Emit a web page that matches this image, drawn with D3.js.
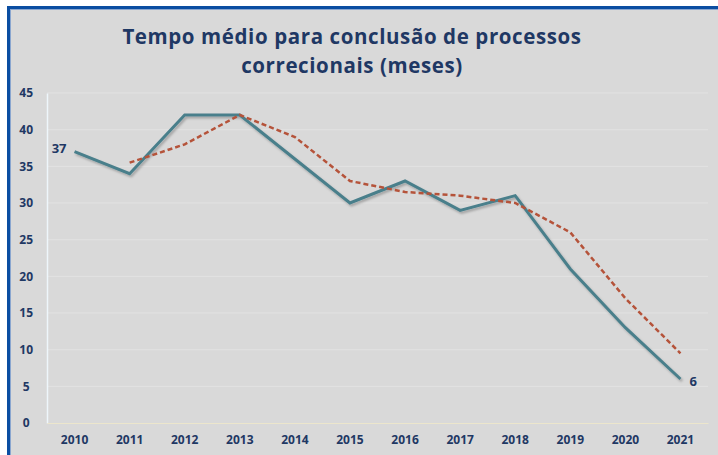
<!DOCTYPE html>
<html>
<head>
<meta charset="utf-8">
<script src="https://cdn.jsdelivr.net/npm/d3@7"></script>
<style>
  body { margin: 0; background: #fff; }
  svg { display: block; }
</style>
</head>
<body>
<div id="chart"></div>
<script>
const years = ['2010', '2011', '2012', '2013', '2014', '2015', '2016', '2017', '2018', '2019', '2020', '2021'];
const tempo = [37, 34, 42, 42, 36, 30, 33, 29, 31, 21, 13, 6];
// moving average trend (2 periods), first year has no value
const trend = [null, 35.5, 38, 42, 39, 33, 31.5, 31, 30, 26, 17, 9.5];
const yTicks = [0, 5, 10, 15, 20, 25, 30, 35, 40, 45];

const W = 718, H = 455;
const margin = { top: 93, right: 10, bottom: 32, left: 47 };
const width = W - margin.left - margin.right;
const height = H - margin.top - margin.bottom;

const svg = d3.select('#chart')
  .append('svg')
  .attr('width', W)
  .attr('height', H);

// frame
svg.append('rect')
  .attr('x', 7).attr('y', 6)
  .attr('width', W - 7).attr('height', H - 6)
  .attr('fill', '#d9d9d9');
svg.append('rect').attr('x', 7).attr('y', 6).attr('width', W - 7).attr('height', 3).attr('fill', '#0b4ea2');
svg.append('rect').attr('x', 7).attr('y', 6).attr('width', 3).attr('height', H - 6).attr('fill', '#0b4ea2');
svg.append('rect').attr('x', 10).attr('y', 9).attr('width', W - 10).attr('height', 1).attr('fill', '#8aa6cf');
svg.append('rect').attr('x', 10).attr('y', 9).attr('width', 1).attr('height', H - 9).attr('fill', '#8aa6cf');

const defs = svg.append('defs');
const shadow = defs.append('filter').attr('id', 'shadow')
  .attr('x', '-10%').attr('y', '-10%').attr('width', '120%').attr('height', '120%');
shadow.append('feDropShadow')
  .attr('dx', 1.5).attr('dy', 2).attr('stdDeviation', 1.2)
  .attr('flood-color', '#000').attr('flood-opacity', 0.25);

// title
const title = svg.append('text')
  .attr('text-anchor', 'middle')
  .attr('font-family', 'Open Sans, sans-serif')
  .attr('font-weight', 'bold')
  .attr('font-size', 20.5)
  .attr('letter-spacing', 0.6)
  .attr('fill', '#1f3864');
title.append('tspan').attr('x', 352).attr('y', 44).text('Tempo médio para conclusão de processos');
title.append('tspan').attr('x', 352).attr('y', 73).text('correcionais (meses)');

const g = svg.append('g')
  .attr('transform', `translate(${margin.left},${margin.top})`);

const x = d3.scaleBand()
  .domain(years)
  .range([0, width])
  .padding(0);

const y = d3.scaleLinear()
  .domain([0, 45])
  .range([height, 0]);

// faint gridlines
g.append('g')
  .selectAll('line')
  .data(yTicks.filter(d => d > 0))
  .enter()
  .append('line')
  .attr('x1', 0).attr('x2', width)
  .attr('y1', d => y(d)).attr('y2', d => y(d))
  .attr('stroke', '#e2e2e2')
  .attr('stroke-width', 1);

// axes
const yAxis = g.append('g')
  .call(d3.axisLeft(y).tickValues(yTicks).tickSize(0).tickPadding(22));
yAxis.select('.domain').attr('stroke', '#eef6fb').attr('stroke-width', 1.5);

const xAxis = g.append('g')
  .attr('transform', `translate(0,${height})`)
  .call(d3.axisBottom(x).tickSize(0).tickPadding(12));
xAxis.select('.domain').attr('stroke', '#ece6cc').attr('stroke-width', 1);

g.selectAll('.tick text')
  .attr('font-family', 'Open Sans, sans-serif')
  .attr('font-weight', 'bold')
  .attr('font-size', 12)
  .attr('fill', '#1f3864');
yAxis.selectAll('.tick text').attr('text-anchor', 'middle').attr('dx', '0.1em');

const cx = d => x(d) + x.bandwidth() / 2;

// main series
const line = d3.line()
  .x((d, i) => cx(years[i]))
  .y(d => y(d));

g.append('path')
  .datum(tempo)
  .attr('d', line)
  .attr('fill', 'none')
  .attr('stroke', '#4a7f8b')
  .attr('stroke-width', 3)
  .attr('stroke-linejoin', 'miter')
  .attr('filter', 'url(#shadow)');

// trend line
const trendLine = d3.line()
  .defined(d => d !== null)
  .x((d, i) => cx(years[i]))
  .y(d => y(d));

g.append('path')
  .datum(trend)
  .attr('d', trendLine)
  .attr('fill', 'none')
  .attr('stroke', '#b5533a')
  .attr('stroke-width', 2.5)
  .attr('stroke-dasharray', '5,3');

// data labels for first and last points
const last = tempo.length - 1;
g.append('text')
  .attr('x', cx(years[0]) - 8)
  .attr('y', y(tempo[0]) - 3)
  .attr('dy', '0.35em')
  .attr('text-anchor', 'end')
  .attr('font-family', 'Open Sans, sans-serif')
  .attr('font-weight', 'bold')
  .attr('font-size', 13)
  .attr('fill', '#1f3864')
  .text(tempo[0]);
g.append('text')
  .attr('x', cx(years[last]) + 9)
  .attr('y', y(tempo[last]) + 2)
  .attr('dy', '0.35em')
  .attr('font-family', 'Open Sans, sans-serif')
  .attr('font-weight', 'bold')
  .attr('font-size', 13)
  .attr('fill', '#1f3864')
  .text(tempo[last]);
</script>
</body>
</html>
